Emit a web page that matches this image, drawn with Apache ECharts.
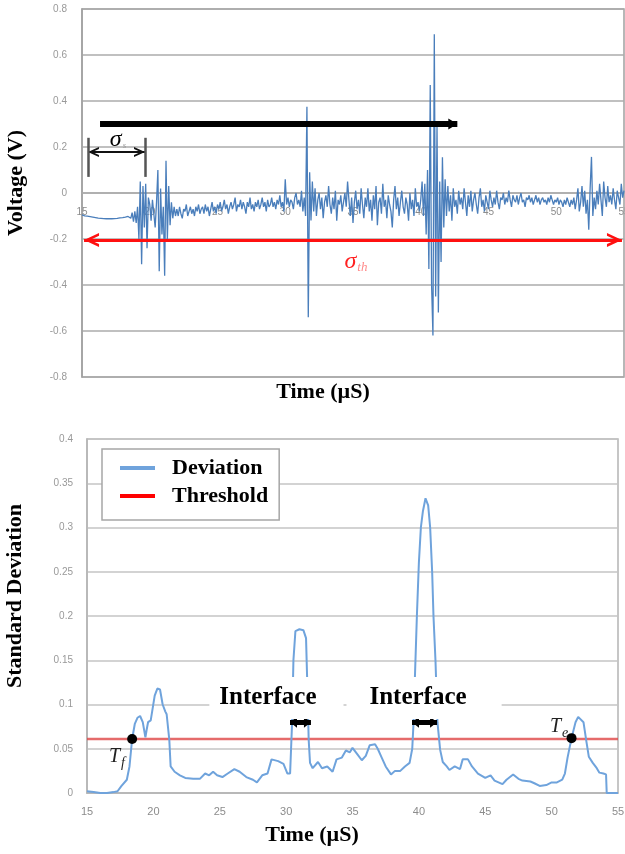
<!DOCTYPE html>
<html><head><meta charset="utf-8">
<script src="https://cdn.jsdelivr.net/npm/echarts@6/dist/echarts.min.js"></script>
<style>html,body{margin:0;padding:0;background:#fff}#c{width:625px;height:854px}</style>
</head><body><div id="c"></div>
<script>
// ---------- DATA ----------
// Top panel: voltage signal sampled every 0.1 µS from 15 µS
const sigStart = 15;
const sigStep = 0.1;
const signalVolts = [
 -0.095,-0.097,-0.099,-0.100,-0.101,-0.102,-0.103,-0.104,-0.105,-0.106,
 -0.107,-0.108,-0.109,-0.110,-0.110,-0.111,-0.111,-0.112,-0.112,-0.112,
 -0.112,-0.112,-0.112,-0.111,-0.111,-0.110,-0.110,-0.109,-0.108,-0.108,
 -0.107,-0.106,-0.105,-0.103,-0.102,-0.098,-0.110,-0.085,-0.125,-0.080,
 -0.130,-0.060,-0.200,0.050,-0.310,0.030,-0.150,0.040,-0.240,-0.020,
 -0.050,-0.120,-0.030,-0.090,-0.150,-0.040,0.100,-0.340,0.020,-0.180,
 -0.060,-0.360,0.140,-0.200,0.030,-0.140,-0.040,-0.110,-0.060,-0.100,
 -0.070,-0.100,-0.060,-0.090,-0.110,-0.070,-0.080,-0.050,-0.100,-0.080,
 -0.060,-0.090,-0.070,-0.100,-0.060,-0.080,-0.050,-0.090,-0.070,-0.060,
 -0.090,-0.050,-0.080,-0.060,-0.100,-0.070,-0.040,-0.080,-0.060,-0.090,
 -0.050,-0.070,-0.040,-0.080,-0.060,-0.030,-0.070,-0.050,-0.090,-0.060,
 -0.040,-0.070,-0.050,-0.020,-0.080,-0.050,-0.060,-0.030,-0.070,-0.040,
 -0.060,-0.090,-0.040,-0.060,-0.020,-0.070,-0.050,-0.080,-0.040,-0.060,
 -0.030,-0.070,-0.050,-0.020,-0.060,-0.040,-0.080,-0.030,-0.060,-0.050,
 -0.020,-0.060,-0.040,-0.070,-0.030,-0.050,-0.010,-0.060,-0.040,-0.080,
 0.060,-0.050,-0.020,-0.060,-0.030,-0.040,-0.070,-0.020,0.000,-0.050,
 -0.030,-0.060,0.010,-0.080,-0.020,-0.100,0.375,-0.540,0.090,-0.120,
 0.050,-0.080,0.020,-0.100,-0.030,0.000,-0.070,-0.020,-0.110,-0.040,
 -0.010,-0.060,0.030,-0.050,-0.090,-0.020,-0.070,0.010,-0.120,-0.030,
 -0.050,-0.010,-0.080,-0.040,0.000,-0.060,0.050,-0.030,-0.100,-0.020,
 -0.130,-0.040,0.010,-0.070,-0.030,-0.090,0.020,-0.050,-0.110,-0.020,
 -0.060,0.020,-0.080,-0.030,-0.120,-0.010,-0.070,0.030,-0.140,-0.040,
 -0.020,-0.090,0.040,-0.060,-0.030,-0.110,-0.010,-0.050,-0.080,-0.150,
 -0.030,0.030,-0.070,-0.020,-0.100,-0.040,0.010,-0.060,-0.090,-0.020,
 -0.050,-0.120,0.000,-0.070,-0.030,-0.100,0.020,-0.060,-0.040,-0.080,
 -0.030,0.050,-0.100,0.040,-0.180,0.100,-0.330,0.470,-0.400,-0.620,
 0.690,-0.450,0.300,-0.520,0.050,-0.300,0.155,-0.150,0.060,-0.100,
 0.030,-0.080,-0.010,-0.120,0.020,-0.060,-0.030,-0.090,0.010,-0.050,
 -0.020,-0.070,0.020,-0.040,-0.100,-0.010,-0.060,0.010,-0.080,-0.030,
 0.000,-0.050,-0.090,-0.020,0.020,-0.060,-0.030,-0.080,-0.010,-0.040,
 -0.070,0.010,-0.030,-0.060,-0.020,-0.050,0.010,-0.040,-0.070,-0.020,
 -0.030,0.000,-0.050,-0.020,-0.040,0.010,-0.030,-0.060,-0.010,-0.030,
 -0.040,-0.010,-0.050,-0.020,0.000,-0.040,-0.030,-0.060,-0.020,-0.030,
 -0.010,-0.040,-0.020,-0.050,-0.030,-0.010,-0.040,-0.020,-0.050,-0.030,
 -0.020,-0.040,-0.030,-0.050,-0.020,-0.040,-0.010,-0.030,-0.050,-0.030,
 -0.040,-0.020,-0.050,-0.030,-0.040,-0.060,-0.030,-0.050,-0.020,-0.040,
 -0.060,-0.030,-0.050,-0.020,-0.070,-0.030,0.020,-0.080,-0.040,0.030,
 -0.060,0.010,-0.090,-0.030,-0.160,0.020,0.157,-0.100,-0.020,-0.070,
 0.010,-0.050,0.040,-0.030,-0.100,0.050,-0.020,-0.060,0.030,-0.040,
 -0.010,-0.050,0.020,-0.030,-0.070,0.010,-0.020,-0.050,0.040,-0.020,
 0.010
];

// Bottom panel: standard deviation curve
const devTime = [
 15.0,15.5,16.0,16.5,17.0,17.3,17.6,18.0,18.2,18.4,18.6,18.8,19.0,19.2,19.4,19.5,19.6,19.8,19.9,
 20.1,20.3,20.5,20.7,20.9,21.0,21.2,21.3,21.6,22.0,22.4,23.0,23.5,23.9,24.2,24.5,24.8,
 25.2,25.6,26.1,26.5,27.0,27.5,27.8,28.2,28.6,28.9,29.4,29.8,30.1,30.3,30.45,30.55,30.7,
 31.0,31.3,31.5,31.6,31.7,31.8,32.0,32.4,32.7,33.1,33.5,33.8,34.2,34.5,34.8,35.0,35.4,35.7,
 36.0,36.3,36.7,36.9,37.2,37.5,37.9,38.2,38.6,38.95,39.3,39.5,39.6,39.7,39.85,40.0,40.15,
 40.3,40.5,40.7,40.85,41.0,41.1,41.25,41.4,41.6,41.8,42.1,42.3,42.7,43.1,43.3,43.7,44.0,
 44.45,45.0,45.4,45.7,46.3,46.6,47.1,47.5,47.8,48.4,48.7,49.1,49.6,50.0,50.4,50.8,51.0,
 51.2,51.5,51.8,52.0,52.1,52.4,52.6,52.8,53.1,53.4,53.6,53.9,54.1,54.15,55.0
];
const devValue = [
 0.002,0.001,0.000,0.000,0.001,0.002,0.008,0.015,0.030,0.061,0.078,0.085,0.087,0.080,0.063,0.072,0.080,0.082,0.081,
 0.110,0.118,0.117,0.100,0.092,0.089,0.060,0.030,0.024,0.020,0.017,0.016,0.016,0.022,0.020,0.024,0.020,
 0.018,0.022,0.027,0.024,0.018,0.015,0.012,0.020,0.022,0.038,0.036,0.033,0.022,0.022,0.080,0.150,0.183,
 0.185,0.184,0.175,0.120,0.060,0.034,0.028,0.035,0.028,0.030,0.024,0.038,0.040,0.048,0.046,0.051,0.043,0.037,
 0.042,0.054,0.055,0.050,0.040,0.030,0.021,0.025,0.025,0.030,0.034,0.050,0.080,0.130,0.200,0.260,0.300,
 0.318,0.333,0.325,0.300,0.250,0.200,0.150,0.080,0.049,0.035,0.030,0.026,0.030,0.027,0.038,0.038,0.030,
 0.022,0.017,0.020,0.014,0.010,0.015,0.021,0.016,0.014,0.013,0.011,0.008,0.009,0.012,0.012,0.015,0.022,
 0.040,0.062,0.080,0.086,0.087,0.080,0.060,0.041,0.034,0.028,0.023,0.022,0.021,0.000,0.000
];
const thresholdValue = 0.061;
const timeRange = [15, 55];
const voltRange = [-0.8, 0.8];
const devRange = [0, 0.4];
const legendNames = ['Deviation', 'Threshold'];

// ---------- CHART ----------
const serif = "'Liberation Serif','Times New Roman',serif";
const sans = "'Liberation Sans',Arial,sans-serif";
const chevron = 'path://M5,0 L10,10 L8,10 L5,4 L2,10 L0,10 Z';

const signalData = signalVolts.map((v, i) => [+(sigStart + i * sigStep).toFixed(2), v]);
const devData = devTime.map((t, i) => [t, devValue[i]]);
const thrData = [[timeRange[0], thresholdValue], [timeRange[1], thresholdValue]];

// top grid geometry; x axis sits on the zero line
const topGrid = {left: 82, top: 9, width: 542, height: 368};
const zeroOffset = -topGrid.height * (0 - voltRange[0]) / (voltRange[1] - voltRange[0]);

const chart = echarts.init(document.getElementById('c'), null, {renderer: 'canvas'});

const subLabel = (main, sub, mainColor, subColor, mainSize, subSize, subPad) => ({
  show: true, position: 'inside', color: mainColor,
  formatter: '{m|' + main + '}{s|' + sub + '}',
  rich: {
    m: {fontFamily: serif, fontStyle: 'italic', fontSize: mainSize, color: mainColor},
    s: {fontFamily: serif, fontStyle: 'italic', fontSize: subSize, color: subColor, padding: [subPad, 0, 0, 1]}
  }
});

const option = {
  animation: false,
  backgroundColor: '#fff',
  grid: [
    Object.assign({show: true, borderColor: '#a0a0a0', borderWidth: 1.5, containLabel: false, outerBoundsMode: 'none'}, topGrid),
    {left: 87, top: 439, width: 531, height: 354, show: true, borderColor: '#b4b4b4', borderWidth: 1.5,
     containLabel: false, outerBoundsMode: 'none'}
  ],
  xAxis: [
    {gridIndex: 0, type: 'value', min: timeRange[0], max: timeRange[1], interval: 5,
     position: 'bottom', offset: zeroOffset,
     axisLine: {show: true, onZero: false, lineStyle: {color: '#ababab', width: 1.5}},
     axisTick: {show: false}, splitLine: {show: false},
     axisLabel: {color: '#8c8c8c', fontSize: 10, fontFamily: sans, margin: 14}},
    {gridIndex: 1, type: 'value', min: timeRange[0], max: timeRange[1], interval: 5,
     axisLine: {show: true, onZero: false, lineStyle: {color: '#b4b4b4', width: 1.5}},
     axisTick: {show: false}, splitLine: {show: false},
     axisLabel: {color: '#8c8c8c', fontSize: 11, fontFamily: sans, margin: 13}}
  ],
  yAxis: [
    {gridIndex: 0, type: 'value', min: voltRange[0], max: voltRange[1], interval: 0.2,
     axisLine: {show: true, onZero: false, lineStyle: {color: '#a0a0a0', width: 1.5}}, axisTick: {show: false},
     splitLine: {show: true, lineStyle: {color: '#ababab', width: 1.5}},
     axisLabel: {color: '#999', fontSize: 10, fontFamily: sans, margin: 15}},
    {gridIndex: 1, type: 'value', min: devRange[0], max: devRange[1], interval: 0.05,
     axisLine: {show: true, onZero: false, lineStyle: {color: '#b4b4b4', width: 1.5}}, axisTick: {show: false},
     splitLine: {show: true, lineStyle: {color: '#c4c4c4', width: 1.5}},
     axisLabel: {color: '#999', fontSize: 10, fontFamily: sans, margin: 14}}
  ],
  legend: {
    left: 102, top: 449, orient: 'vertical', selectedMode: false,
    padding: [7, 11, 12, 18], itemGap: 4, itemWidth: 35, itemHeight: 4, icon: 'rect',
    backgroundColor: '#fff', borderColor: '#a6a6a6', borderWidth: 1.5,
    textStyle: {fontFamily: serif, fontWeight: 'bold', fontSize: 22, color: '#000', lineHeight: 24, padding: [0, 0, 0, 12]},
    data: [
      {name: legendNames[0], itemStyle: {color: '#6fa3dc'}},
      {name: legendNames[1], itemStyle: {color: '#ff0000'}}
    ]
  },
  graphic: [
    {type: 'text', x: 16, y: 183, rotation: Math.PI / 2, z: 10,
     style: {text: 'Voltage (V)', fontFamily: serif, fontWeight: 'bold', fontSize: 22, fill: '#000', align: 'center', verticalAlign: 'middle'}},
    {type: 'text', x: 323, y: 392, z: 10,
     style: {text: 'Time (µS)', fontFamily: serif, fontWeight: 'bold', fontSize: 22, fill: '#000', align: 'center', verticalAlign: 'middle'}},
    {type: 'text', x: 15, y: 596, rotation: Math.PI / 2, z: 10,
     style: {text: 'Standard Deviation', fontFamily: serif, fontWeight: 'bold', fontSize: 22, fill: '#000', align: 'center', verticalAlign: 'middle'}},
    {type: 'text', x: 312, y: 835, z: 10,
     style: {text: 'Time (µS)', fontFamily: serif, fontWeight: 'bold', fontSize: 22, fill: '#000', align: 'center', verticalAlign: 'middle'}}
  ],
  series: [
    {
      name: 'Signal', type: 'line', xAxisIndex: 0, yAxisIndex: 0, data: signalData,
      showSymbol: false, symbol: 'none', silent: true,
      lineStyle: {color: '#4a7ebb', width: 1.3}, itemStyle: {color: '#4a7ebb'},
      markLine: {
        silent: true, animation: false, symbol: 'none', label: {show: false},
        data: [
          [{coord: [16.33, 0.30], symbol: 'none', lineStyle: {color: '#000', width: 6, type: 'solid'}},
           {coord: [42.7, 0.30], symbol: 'triangle', symbolSize: [11, 9], symbolOffset: [0, '50%']}],
          [{coord: [15.44, 0.178], symbol: chevron, symbolSize: [10, 11], symbolOffset: [0, '50%'], lineStyle: {color: '#111', width: 2, type: 'solid'}},
           {coord: [19.65, 0.178], symbol: chevron, symbolSize: [10, 11], symbolOffset: [0, '50%']}],
          [{coord: [15.44, 0.24], symbol: 'none', lineStyle: {color: '#555', width: 2.5, type: 'solid'}},
           {coord: [15.44, 0.07], symbol: 'none'}],
          [{coord: [19.65, 0.24], symbol: 'none', lineStyle: {color: '#555', width: 2.5, type: 'solid'}},
           {coord: [19.65, 0.07], symbol: 'none'}],
          [{coord: [15.15, -0.204], symbol: chevron, symbolSize: [14, 15], symbolOffset: [0, '50%'], lineStyle: {color: '#ff1010', width: 3, type: 'solid'}},
           {coord: [54.85, -0.204], symbol: chevron, symbolSize: [14, 15], symbolOffset: [0, '50%']}]
        ]
      },
      markPoint: {
        silent: true, animation: false, symbol: 'circle', symbolSize: 1,
        itemStyle: {color: 'rgba(0,0,0,0)'}, label: {show: false},
        data: [
          {coord: [17.66, 0.23], label: subLabel('σ', 's', '#000', '#999', 24, 9, 12)},
          {coord: [35.22, -0.30], label: subLabel('σ', 'th', '#ff2020', '#ff8a8a', 24, 13, 12)}
        ]
      }
    },
    {
      name: 'Deviation', type: 'line', xAxisIndex: 1, yAxisIndex: 1, data: devData,
      showSymbol: false, symbol: 'none', silent: true, z: 3,
      lineStyle: {color: '#6fa3dc', width: 2}, itemStyle: {color: '#6fa3dc'},
      markLine: {
        silent: true, animation: false, symbol: 'none', label: {show: false},
        data: [
          [{coord: [30.29, 0.08], symbol: 'triangle', symbolSize: [11, 7], symbolOffset: [0, '50%'], lineStyle: {color: '#000', width: 5, type: 'solid'}},
           {coord: [31.87, 0.08], symbol: 'triangle', symbolSize: [11, 7], symbolOffset: [0, '50%']}],
          [{coord: [39.48, 0.08], symbol: 'triangle', symbolSize: [11, 7], symbolOffset: [0, '50%'], lineStyle: {color: '#000', width: 5, type: 'solid'}},
           {coord: [41.37, 0.08], symbol: 'triangle', symbolSize: [11, 7], symbolOffset: [0, '50%']}]
        ]
      },
      markPoint: {
        silent: true, animation: false, symbol: 'circle', symbolSize: 1,
        itemStyle: {color: 'rgba(0,0,0,0)'}, label: {show: false},
        data: [
          {coord: [18.4, thresholdValue], symbol: 'circle', symbolSize: 10, itemStyle: {color: '#000'}},
          {coord: [51.5, 0.062], symbol: 'circle', symbolSize: 10, itemStyle: {color: '#000'}},
          {coord: [17.26, 0.0407], label: subLabel('T', 'f', '#222', '#222', 20, 14, 12)},
          {coord: [50.56, 0.0746], label: subLabel('T', 'e', '#222', '#222', 20, 14, 12)},
          {coord: [29.27, 0.1073], label: {show: true, position: 'inside', formatter: 'Interface',
            fontFamily: serif, fontWeight: 'bold', fontSize: 25, lineHeight: 25, color: '#000',
            backgroundColor: '#fff', padding: [6, 27, 11, 10]}},
          {coord: [40.39, 0.1073], label: {show: true, position: 'inside', formatter: 'Interface',
            fontFamily: serif, fontWeight: 'bold', fontSize: 25, lineHeight: 25, color: '#000',
            backgroundColor: '#fff', padding: [3, 35, 14, 23]}}
        ]
      }
    },
    {
      name: 'Threshold', type: 'line', xAxisIndex: 1, yAxisIndex: 1, data: thrData,
      showSymbol: false, symbol: 'none', silent: true, z: 2,
      lineStyle: {color: 'rgba(222,70,70,0.8)', width: 2.5}, itemStyle: {color: '#ff0000'}
    }
  ]
};
chart.setOption(option);
</script>
</body></html>
